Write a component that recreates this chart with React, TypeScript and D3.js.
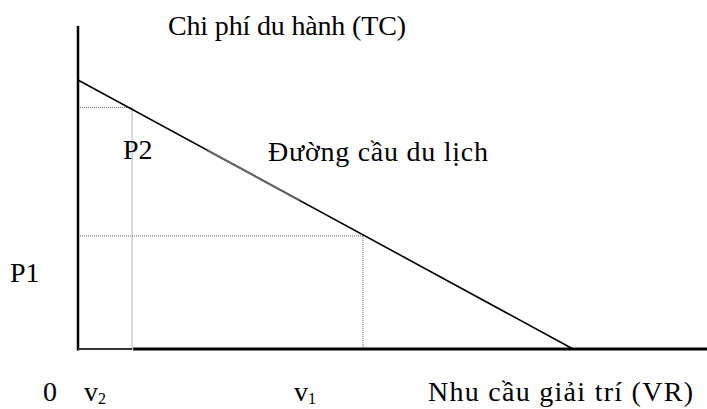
import React from 'react';
import * as d3 from 'd3';

// demand curve end points (recreation demand V, travel cost P)
const demandV = [0, 7.87];
const demandP = [8.33, 0];
// the two marked points on the curve
const pointNames = ['2', '1'];
const pointV = [0.86, 4.53];
const pointP = [7.48, 3.5];
// part of the curve that shows lighter in the source
const fadedV = [2.05, 3.53];

const axisTitleY = 'Chi phí du hành (TC)';
const axisTitleX = 'Nhu cầu giải trí (VR)';
const curveLabel = 'Đường cầu du lịch';

const W = 707;
const H = 409;
const FONT = '"Liberation Serif", "Times New Roman", serif';

export default function App() {
  const x = d3.scaleLinear().domain([0, 10]).range([78, 707]);
  const y = d3.scaleLinear().domain([0, 10]).range([349, 26]);
  const pAt = (v: number) => demandP[0] + (v - demandV[0]) * (demandP[1] - demandP[0]) / (demandV[1] - demandV[0]);

  const line = d3.line<[number, number]>().x(d => x(d[0])).y(d => y(d[1]));
  const demand: [number, number][] = demandV.map((v, i) => [v, demandP[i]]);
  const faded: [number, number][] = fadedV.map(v => [v, pAt(v)]);

  const fs = 28;
  const labelX = [84, 294];
  const baseY = 401;

  return (
    <div style={{ position: 'absolute', left: 0, top: 0 }}>
      <svg width={W} height={H} style={{ display: 'block', background: '#fff' }} fontFamily={FONT}>
        {/* guide lines */}
        {pointV.map((v, i) => (
          <g key={i} stroke="#666" strokeWidth={1} strokeDasharray="1,1" fill="none">
            <line x1={x(0)} x2={x(v)} y1={y(pointP[i])} y2={y(pointP[i])} />
            <line x1={x(v)} x2={x(v)} y1={y(pointP[i])} y2={y(0)} />
          </g>
        ))}

        {/* axes */}
        <line x1={x(0)} x2={x(0)} y1={y(10)} y2={y(0) + 1.5} stroke="#000" strokeWidth={2.5} />
        <line x1={x(0)} x2={x(pointV[0])} y1={y(0)} y2={y(0)} stroke="#333" strokeWidth={2} />
        <line x1={x(pointV[0]) + 1} x2={x(10)} y1={y(0)} y2={y(0)} stroke="#000" strokeWidth={3} />

        {/* demand curve */}
        <path d={line(demand) ?? ''} stroke="#000" strokeWidth={1.6} fill="none" />
        <path d={line(faded) ?? ''} stroke="#666" strokeWidth={2} fill="none" />

        {/* labels */}
        <text x={168} y={35} fontSize={fs} textLength={238} lengthAdjust="spacing">{axisTitleY}</text>
        <text x={268} y={161} fontSize={fs} textLength={220} lengthAdjust="spacing">{curveLabel}</text>
        <text x={123} y={159} fontSize={fs}>P{pointNames[0]}</text>
        <text x={10} y={282} fontSize={fs}>P{pointNames[1]}</text>
        <text x={43} y={baseY} fontSize={fs}>0</text>
        {pointV.map((v, i) => (
          <text key={i} x={labelX[i]} y={baseY} fontSize={fs}>
            v<tspan fontSize={16} dy={3}>{pointNames[i]}</tspan>
          </text>
        ))}
        <text x={428} y={baseY} fontSize={fs} textLength={265} lengthAdjust="spacing">{axisTitleX}</text>
      </svg>
    </div>
  );
}
